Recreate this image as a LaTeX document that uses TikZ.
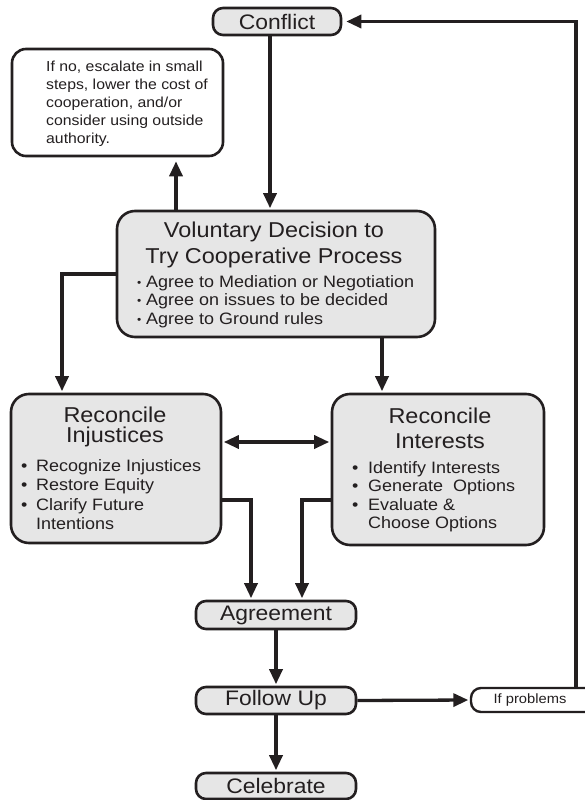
\documentclass[tikz,border=0pt]{standalone}
\usepackage{fontspec}
\setmainfont{Liberation Sans}[FakeStretch=1.09]
\usetikzlibrary{arrows.meta}
\definecolor{ink}{HTML}{231F20}
\definecolor{boxfill}{HTML}{E6E6E6}
\newcommand\bulI{\makebox[15pt][l]{\textbullet}}
\newcommand\bulK{\makebox[16pt][l]{\textbullet}}
\newcommand\bulV{\makebox[9pt][l]{\raisebox{1pt}{\fontsize{11}{11}\selectfont\textbullet}}}
\tikzset{
  bigbox/.style={draw=ink, line width=2.6pt, fill=boxfill, rounded corners=18pt, inner sep=0pt},
  pill/.style={draw=ink, line width=2.6pt, fill=boxfill, rounded corners=10pt, inner sep=0pt,
    text=ink, font=\fontsize{21}{24}\selectfont},
  notebox/.style={draw=ink, line width=2.6pt, fill=white, rounded corners=14pt, inner sep=0pt},
  conn/.style={draw=ink, line width=3.3pt, -{Triangle[length=15pt,width=13pt]}, shorten >=1.5pt},
  txt/.style={inner sep=0pt, text=ink},
  titlefont/.style={font=\fontsize{21.5}{26}\selectfont},
}
\begin{document}
\begin{tikzpicture}[x=1pt,y=-1pt]
\useasboundingbox (0,0) rectangle (585,800);
\clip (0,0) rectangle (585,800);

% boxes
\node[pill, minimum width=128pt, minimum height=27pt] (conflict) at (277,21.5) {Conflict};
\node[notebox, minimum width=211pt, minimum height=107pt] (note) at (117.5,102.5) {};
\node[bigbox, minimum width=318pt, minimum height=126pt] (vol) at (276,274) {};
\node[bigbox, minimum width=210pt, minimum height=149pt] (inj) at (116,468.5) {};
\node[bigbox, minimum width=212pt, minimum height=151pt] (int) at (438,469.5) {};
\node[pill, minimum width=160pt, minimum height=28pt] (agr) at (276,615) {Agreement};
\node[pill, minimum width=160pt, minimum height=27pt] (fol) at (276,700.5) {Follow Up};
\node[pill, minimum width=160pt, minimum height=26pt] (cel) at (276,786) {Celebrate};
\node[draw=ink, line width=2.4pt, fill=white, rounded corners=10pt, inner sep=0pt,
      minimum width=130pt, minimum height=24pt] (ifp) at (536,700) {};

% texts
\node[txt, anchor=base west, font=\fontsize{14.5}{18}\selectfont] (notetext) at (46,71)
  {\begin{tabular}[t]{@{}l@{}}If no, escalate in small\\ steps, lower the cost of\\ cooperation, and/or\\ consider using outside\\ authority.\end{tabular}};

\node[txt, anchor=base, titlefont] (voltitle) at (274,237)
  {\begin{tabular}[t]{@{}c@{}}Voluntary Decision to\\ Try Cooperative Process\end{tabular}};
\node[txt, anchor=base west, font=\fontsize{16.5}{18.7}\selectfont] (volbul) at (137,287)
  {\begin{tabular}[t]{@{}l@{}}\bulV Agree to Mediation or Negotiation\\ \bulV Agree on issues to be decided\\ \bulV Agree to Ground rules\end{tabular}};

\node[txt, anchor=base, titlefont] (injtitle) at (115,422)
  {\begin{tabular}[t]{@{}c@{}}Reconcile\\[-6pt] Injustices\end{tabular}};
\node[txt, anchor=base west, font=\fontsize{16.5}{19.5}\selectfont] (injbul) at (21,471)
  {\begin{tabular}[t]{@{}l@{}}\bulI Recognize Injustices\\ \bulI Restore Equity\\ \bulI Clarify Future\\ \hspace{15pt}Intentions\end{tabular}};

\node[txt, anchor=base, titlefont] (inttitle) at (440,423)
  {\begin{tabular}[t]{@{}c@{}}Reconcile\\[-1pt] Interests\end{tabular}};
\node[txt, anchor=base west, font=\fontsize{16.5}{18.5}\selectfont] (intbul) at (352,473)
  {\begin{tabular}[t]{@{}l@{}}\bulK Identify Interests\\ \bulK Generate\ \ Options\\ \bulK Evaluate \&\\ \hspace{16pt}Choose Options\end{tabular}};

\node[txt, font=\fontsize{13.5}{16}\selectfont] (ifptext) at (530,700.5) {If problems};

% helper coordinates
\coordinate (upx) at (176,0);
\coordinate (lx) at (62,0);
\coordinate (rx) at (382,0);
\coordinate (dy) at (0,442);
\coordinate (ey) at (0,500);
\coordinate (ax1) at (251,0);
\coordinate (ax2) at (302,0);
\coordinate (fx) at (576,0);

% connectors
\draw[conn] ([xshift=-7pt]conflict.south) -- ([xshift=-6pt]vol.north);
\draw[conn, shorten >=4pt] (vol.north -| upx) -- (note.south -| upx);
\draw[conn] (vol.west) -| (inj.north -| lx);
\draw[conn] (vol.south -| rx) -- (int.north -| rx);
\draw[conn, {Triangle[length=15pt,width=13pt]}-{Triangle[length=15pt,width=13pt]}, shorten <=1.5pt]
  (inj.east |- dy) -- (int.west |- dy);
\draw[conn] (inj.east |- ey) -| (agr.north -| ax1);
\draw[conn] (int.west |- ey) -| (agr.north -| ax2);
\draw[conn] (agr.south) -- (fol.north);
\draw[conn] (fol.south) -- (cel.north);
\draw[conn] (fol.east) -- (ifp.west);
\draw[conn, shorten >=4pt] (ifp.north -| fx) |- (conflict.east);
\end{tikzpicture}
\end{document}
